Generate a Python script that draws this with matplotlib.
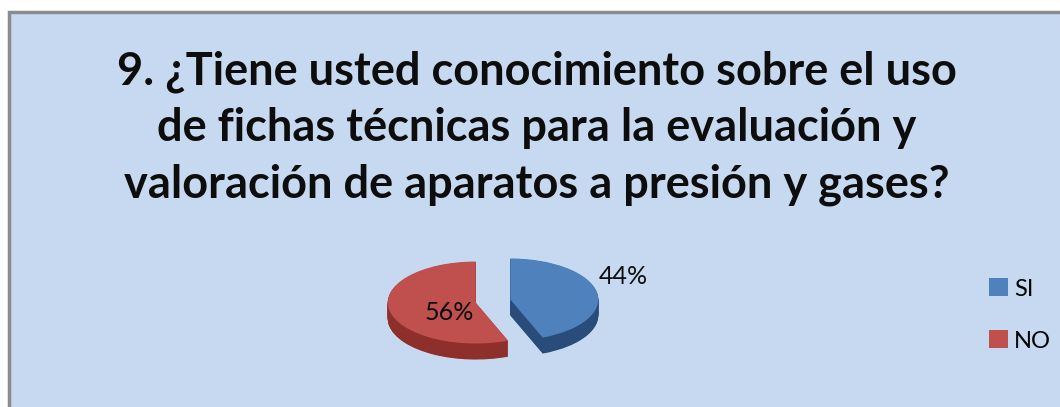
import matplotlib
matplotlib.use("Agg")
import matplotlib.pyplot as plt
from matplotlib.patches import Rectangle, Patch

# data
categories = ["SI", "NO"]
values = [44, 56]
top_colors = ["#4F81BD", "#C0504D"]
side_colors = ["#2A4C7A", "#8E2F2C"]
title = ("9. ¿Tiene usted conocimiento sobre el uso\n"
         "de fichas técnicas para la evaluación y\n"
         "valoración de aparatos a presión y gases?")

W, H = 1060, 407
fig = plt.figure(figsize=(W / 100, H / 100), dpi=100)
fig.patch.set_facecolor("white")

# chart area box (background axes)
bg = fig.add_axes([0, 0, 1, 1], zorder=-1)
bg.set_xlim(0, W)
bg.set_ylim(H, 0)
bg.axis("off")
bg.add_patch(Rectangle((9, 12), W, H, facecolor="#C6D9F1",
                       edgecolor="#8C8C8C", linewidth=2.5))

fig.text(537 / W, 1 - 128 / H, title, ha="center", va="center",
         fontsize=32.5, fontweight="bold", family="Lato", color="#0D0D0D",
         linespacing=1.42)

# pie axes in pixel box
x0, x1, ytop, ybot = 370, 630, 240, 370
cx, cy, rx, ry = 493, 301, 88, 41
ax = fig.add_axes([x0 / W, 1 - ybot / H, (x1 - x0) / W, (ybot - ytop) / H])
ax.set_facecolor("none")

depth = 16 / ry
steps = 32
explode = [0.2, 0.2]
for i in range(steps, 0, -1):
    d = depth * i / steps
    ax.pie(values, colors=side_colors, startangle=90, counterclock=False,
           explode=explode, center=(0, -d), frame=False,
           wedgeprops=dict(linewidth=0))
ax.pie(values, colors=top_colors, startangle=90, counterclock=False,
       explode=explode, center=(0, 0), frame=False,
       wedgeprops=dict(linewidth=0))
ax.set_aspect("auto")
ax.set_xlim(-(cx - x0) / rx, (x1 - cx) / rx)
ax.set_ylim(-(ybot - cy) / ry, (cy - ytop) / ry)
ax.axis("off")

# percent labels
label_pos = [(623, 276), (449, 313)]
for v, (px, py) in zip(values, label_pos):
    fig.text(px / W, 1 - py / H, f"{v}%", ha="center", va="center",
             fontsize=18, family="Lato", color="#0D0D0D")

handles = [Patch(facecolor=c, edgecolor="none") for c in top_colors]
fig.legend(handles, categories, loc="center left",
           bbox_to_anchor=(989 / W, 1 - 315 / H), frameon=False,
           prop=dict(family="Lato", size=17), borderpad=0, borderaxespad=0,
           handlelength=0.8, handleheight=0.8, handletextpad=0.25,
           labelspacing=1.3)

fig.savefig("out.png", dpi=100)
